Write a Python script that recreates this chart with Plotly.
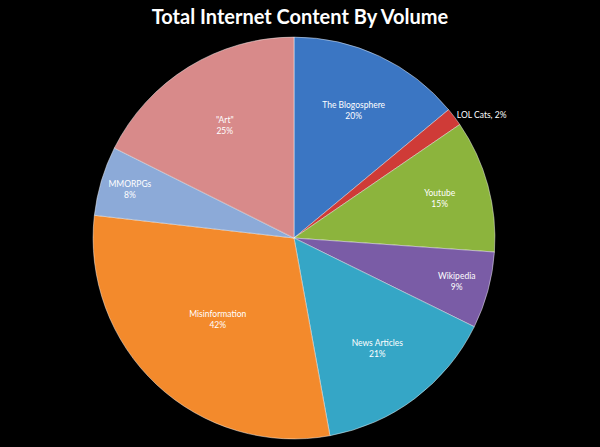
import plotly.graph_objects as go

categories = ["The Blogosphere", "LOL Cats", "Youtube", "Wikipedia",
              "News Articles", "Misinformation", "MMORPGs", "\"Art\""]
# slice sizes as drawn (degrees of arc)
slice_values = [50.3, 5.3, 38.4, 22.2, 53.5, 106.8, 20.1, 63.4]
# percentages printed on the chart
label_pcts = [20, 2, 15, 9, 21, 42, 8, 25]

colors = ["#3b76c3", "#cf3b37", "#8cb43d", "#7a5ca6",
          "#35a6c6", "#f38a2c", "#8caad8", "#d88a8a"]

texts = []
positions = []
for c, p in zip(categories, label_pcts):
    if c == "LOL Cats":
        texts.append(f"{c}, {p}%")
        positions.append("outside")
    else:
        texts.append(f"{c}<br>{p}%")
        positions.append("inside")

fig = go.Figure(go.Pie(
    labels=categories,
    values=slice_values,
    text=texts,
    textinfo="text",
    textposition=positions,
    insidetextorientation="horizontal",
    sort=False,
    direction="clockwise",
    rotation=0,
    marker=dict(colors=colors, line=dict(color="rgba(255,255,255,0.45)", width=1)),
    textfont=dict(family="Lato", size=8.5, color="white"),
    outsidetextfont=dict(family="Lato", size=8.5, color="white"),
    insidetextfont=dict(family="Lato", size=8.5, color="white"),
    domain=dict(x=[0.155, 0.825], y=[0.018, 0.917]),
    showlegend=False,
    hoverinfo="label+percent",
))

fig.update_layout(
    width=600, height=447,
    paper_bgcolor="black", plot_bgcolor="black",
    margin=dict(l=0, r=0, t=0, b=0),
    title=dict(text="<b>Total Internet Content By Volume</b>",
               x=0.5, xanchor="center", y=0.962, yanchor="middle",
               font=dict(family="Lato", size=20, color="white")),
)

fig.write_html("out.html",
               config={"displayModeBar": False},
               post_script="document.body.style.margin='0';"
                           "document.body.style.background='black';")
